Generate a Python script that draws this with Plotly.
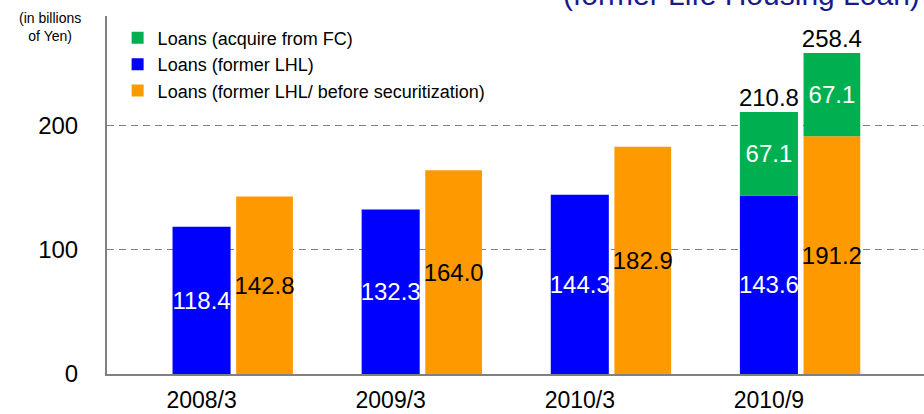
import plotly.graph_objects as go

# ---- data ----
categories = ["2008/3", "2009/3", "2010/3", "2010/9"]
loans_former_lhl = [118.4, 132.3, 144.3, 143.6]
loans_before_securitization = [142.8, 164.0, 182.9, 191.2]
acquire_fc_category = ["2010/9"]
loans_acquire_fc_on_lhl = [67.1]
loans_acquire_fc_on_before_sec = [67.1]
total_labels = ["210.8", "258.4"]
total_values = [210.8, 258.4]
y_tick_values = [0, 100, 200]

# ---- styling constants ----
FONT = "Liberation Sans, Arial, sans-serif"
BLUE = "#0000FF"
ORANGE = "#FF9900"
GREEN = "#00B050"
GRAY = "#808080"
W_BLUE = 0.307
W_ORANGE = 0.30
SHIFT = 0.333  # centre of the right-hand bar relative to the category tick
TXT = 24

idx = list(range(len(categories)))
idx_fc = [categories.index(c) for c in acquire_fc_category]

fig = go.Figure()

common = dict(texttemplate="%{y:.1f}", textposition="inside", insidetextanchor="middle",
              textangle=0, constraintext="none", hoverinfo="skip")

fig.add_trace(go.Bar(
    name="Loans (former LHL)", x=idx, y=loans_former_lhl,
    width=W_BLUE, offset=-W_BLUE / 2, marker=dict(color=BLUE, line=dict(width=0)),
    insidetextfont=dict(color="white", size=TXT, family=FONT),
    legendrank=2, **common,
))
fig.add_trace(go.Bar(
    name="Loans (former LHL/ before securitization)", x=idx, y=loans_before_securitization,
    width=W_ORANGE, offset=SHIFT - W_ORANGE / 2, marker=dict(color=ORANGE, line=dict(width=0)),
    insidetextfont=dict(color="black", size=TXT, family=FONT),
    legendrank=3, **common,
))
fig.add_trace(go.Bar(
    name="Loans (acquire from FC)", x=idx_fc, y=loans_acquire_fc_on_lhl,
    base=[loans_former_lhl[i] for i in idx_fc],
    width=W_BLUE, offset=-W_BLUE / 2, marker=dict(color=GREEN, line=dict(width=0)),
    insidetextfont=dict(color="white", size=TXT, family=FONT),
    legendrank=1, **common,
))
fig.add_trace(go.Bar(
    name="Loans (acquire from FC)", x=idx_fc, y=loans_acquire_fc_on_before_sec,
    base=[loans_before_securitization[i] for i in idx_fc],
    width=W_ORANGE, offset=SHIFT - W_ORANGE / 2, marker=dict(color=GREEN, line=dict(width=0)),
    insidetextfont=dict(color="white", size=TXT, family=FONT),
    showlegend=False, **common,
))
# totals above the stacked bars
fig.add_trace(go.Scatter(
    x=[idx_fc[0], idx_fc[0] + SHIFT], y=total_values, text=total_labels,
    mode="text", textposition="top center",
    textfont=dict(color="black", size=TXT, family=FONT),
    showlegend=False, hoverinfo="skip", cliponaxis=False,
))

fig.update_layout(
    width=924, height=414,
    margin=dict(l=107, r=0, t=16, b=40, autoexpand=False),
    paper_bgcolor="white", plot_bgcolor="white",
    barmode="overlay",
    font=dict(family=FONT, color="black"),
    showlegend=True,
    legend=dict(
        x=0.013, y=0.99, xanchor="left", yanchor="top",
        bgcolor="rgba(0,0,0,0)", font=dict(size=18, family=FONT, color="black"),
        traceorder="normal", itemclick=False,
    ),
    xaxis=dict(
        range=[-0.5, 3.82], tickvals=idx, ticktext=categories, automargin=False,
        showgrid=False, zeroline=False, showline=True, linecolor=GRAY, linewidth=2,
        ticks="", tickfont=dict(size=23, family=FONT, color="black"),
        ticklabelstandoff=4,
    ),
    yaxis=dict(
        range=[0, 288], tickvals=y_tick_values, automargin=False,
        showgrid=True, gridcolor=GRAY, gridwidth=1.5, griddash="7px,5px",
        zeroline=False, showline=True, linecolor=GRAY, linewidth=2,
        ticks="", tickfont=dict(size=TXT, family=FONT, color="black"),
        ticklabelstandoff=22,
    ),
    annotations=[
        dict(text="(in billions<br>of Yen)", xref="paper", yref="paper",
             x=(50 - 107) / 817, y=0.97, xanchor="center", yanchor="middle",
             showarrow=False, align="center",
             font=dict(size=14, family=FONT, color="black")),
        dict(text="(former Life Housing Loan)", xref="paper", yref="paper",
             x=0.998, y=1.06, xanchor="right", yanchor="middle",
             showarrow=False, font=dict(size=30, family=FONT, color="#1A1A8C")),
    ],
)

fig.write_html(
    "out.html",
    config={"displayModeBar": False, "staticPlot": True},
    post_script="document.body.style.margin='0';document.body.style.overflow='hidden';",
)
